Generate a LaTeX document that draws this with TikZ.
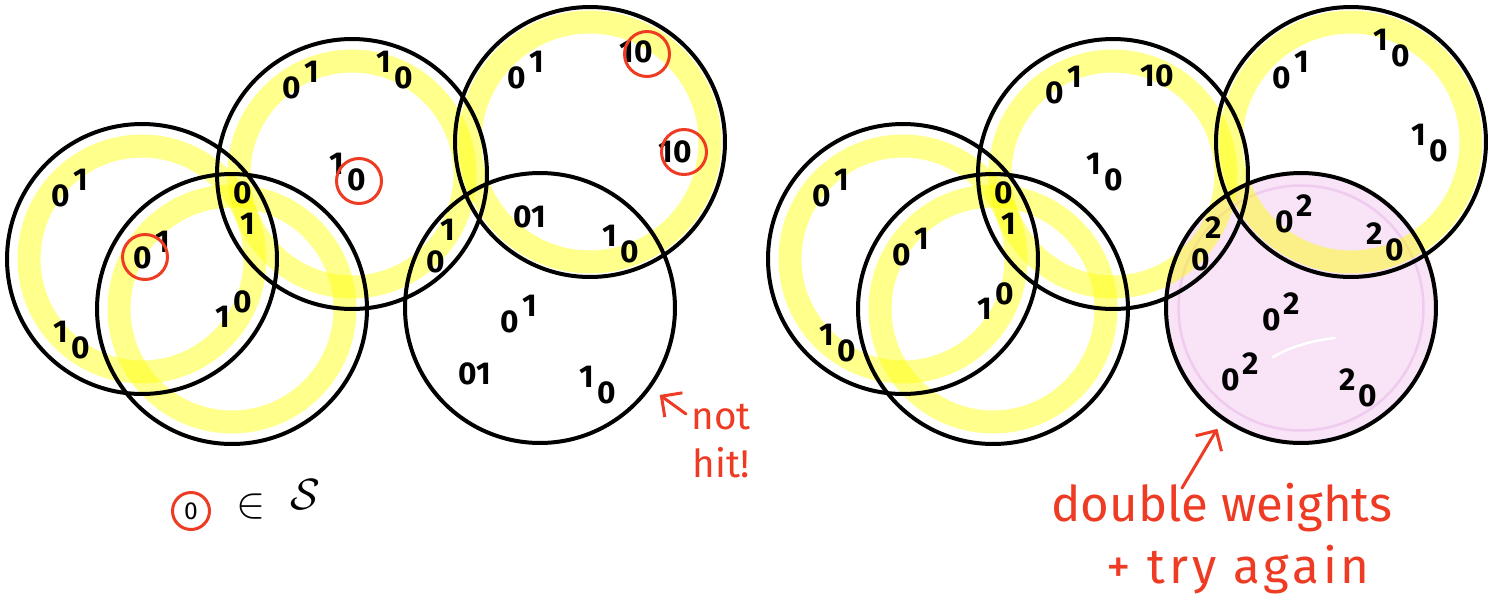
\documentclass[tikz,border=0pt]{standalone}
\usepackage{fontspec}
\setmainfont{Fira Sans}
\usepackage{tikz}
\usetikzlibrary{arrows.meta,positioning,backgrounds}
\definecolor{inkred}{HTML}{EE3B24}
\definecolor{hilite}{HTML}{FFFF00}
\definecolor{blush}{HTML}{F8E3F7}
\definecolor{blushrim}{HTML}{EFCBEE}
\newcommand{\up}[2]{#1\kern0.1em\raisebox{0.5em}{#2}}
\newcommand{\dn}[2]{\raisebox{0.5em}{#1}\kern0.1em#2}
\newcommand{\hi}[2]{#1\kern-0.15em\raisebox{1em}{#2}}
\tikzset{
  ring/.style={draw, circle, line width=0.08cm, minimum size=5.4cm, inner sep=0pt},
  band/.style={draw=hilite, draw opacity=0.45, line width=0.46cm},
  dig/.style={font=\fontsize{18}{16}\selectfont\bfseries, inner sep=0pt},
  hit/.style={draw=inkred, circle, line width=0.06cm, minimum size=0.9cm, inner sep=0pt},
  note/.style={text=inkred, font=\fontsize{28}{30}\selectfont, inner sep=0pt},
  redarr/.style={-{Straight Barb[length=3mm]}, draw=inkred, line width=0.06cm, line cap=round}
}

\begin{document}
\begin{tikzpicture}[x=0.02cm, y=-0.02cm]
\useasboundingbox (0,0) rectangle (1498,599);
% left: weights 1
\node[ring] (A) at (142,259) {};
\node[ring] (B) at (232,309) {};
\node[ring] (C) at (352,174) {};
\node[ring] (D) at (590,142) {};
\node[ring] (E) at (540,308) {};
% right: weights doubled on the missed set
\node[ring] (A2) at (903,259) {};
\node[ring] (B2) at (993,309) {};
\node[ring] (C2) at (1113,174) {};
\node[ring] (D2) at (1351,142) {};
\node[ring] (E2) at (1301,308) {};

\begin{pgfonlayer}{background}
\fill[blush] (E2.center) circle[radius=2.7cm];
\draw[blushrim, line width=0.05cm] (E2.center) circle[radius=2.45cm];
\draw[white, line width=0.05cm, line cap=round] (1273,357) .. controls (1292,346) and (1315,340) .. (1335,338);
\draw[band] (A.center) circle[radius=2.26cm];
\draw[band] (B.center) circle[radius=2.26cm];
\draw[band] (C.center) circle[radius=2.26cm];
\draw[band] (D.center) circle[radius=2.4cm];
\draw[band] (A2.center) circle[radius=2.26cm];
\draw[band] (B2.center) circle[radius=2.26cm];
\draw[band] (C2.center) circle[radius=2.26cm];
\draw[band] (D2.center) circle[radius=2.4cm];
\end{pgfonlayer}

% labels, left
\node[dig] (a1) at (70,188) {\up{0}{1}};
\node[dig] (a2) at (72,340) {\dn{1}{0}};
\node[dig] (a3) at (152,250) {\up{0}{1}};
\node[dig] (a4) at (234,309) {\up{1}{0}};
\node[dig, align=center] (ac) at (243,208) {0\\[2pt]\kern0.3em1};
\node[dig] (c1) at (301,80) {\up{0}{1}};
\node[dig] (c2) at (395,70) {\dn{1}{0}};
\node[dig] (c3) at (348,172) {\dn{1}{0}};
\node[dig] (ce) at (441,246) {\hi{0}{1}};
\node[dig] (d1) at (526,70) {\up{0}{1}};
\node[dig] (d2) at (636,52) {10};
\node[dig] (d3) at (675,152) {10};
\node[dig] (d4) at (530,217) {01};
\node[dig] (d5) at (621,244) {\dn{1}{0}};
\node[dig] (e1) at (519,314) {\up{0}{1}};
\node[dig] (e2) at (475,374) {01};
\node[dig] (e3) at (598,385) {\dn{1}{0}};
\node[hit] (h1) at (145,257) {};
\node[hit] (h2) at (359,181) {};
\node[hit] (h3) at (647,54) {};
\node[hit] (h4) at (684,152) {};

% labels, right
\node[dig] (a1r) at (831,188) {\up{0}{1}};
\node[dig] (a2r) at (838,343) {\dn{1}{0}};
\node[dig] (a3r) at (911,247) {\up{0}{1}};
\node[dig] (a4r) at (996,301) {\up{1}{0}};
\node[dig, align=center] (acr) at (1004,208) {0\\[2pt]\kern0.3em1};
\node[dig] (c1r) at (1064,85) {\up{0}{1}};
\node[dig] (c2r) at (1157,76) {10};
\node[dig] (c3r) at (1105,172) {\dn{1}{0}};
\node[dig] (cer) at (1207,244) {\hi{0}{2}};
\node[dig] (d1r) at (1291,70) {\up{0}{1}};
\node[dig] (d2r) at (1392,48) {\dn{1}{0}};
\node[dig] (d3r) at (1430,143) {\dn{1}{0}};
\node[dig] (d4r) at (1294,214) {\up{0}{2}};
\node[dig] (d5r) at (1385,242) {\dn{2}{0}};
\node[dig] (e1r) at (1281,312) {\up{0}{2}};
\node[dig] (e2r) at (1240,372) {\up{0}{2}};
\node[dig] (e3r) at (1358,388) {\dn{2}{0}};

% key
\node[hit, minimum size=0.74cm, font=\fontsize{14}{14}\selectfont] (key) at (191,511) {0};
\node[font=\fontsize{26}{26}\selectfont] (in) at (251,507) {$\in$};
\node[font=\fontsize{40}{40}\selectfont] (set) at (305,495) {$\mathcal{S}$};

% notes
\node[note, font=\fontsize{22}{27}\selectfont, align=center] (nothit) at (721,441) {not\\hit!};
\coordinate (ntail) at (686,414);
\draw[redarr, shorten >=0.22cm] (ntail) -- (E.-36);
\node[note] (dw) at (1222,508) {double weights};
\node[note] (ta) at (1238,570) {\addfontfeature{LetterSpace=8}+ try again};
\coordinate (dwtail) at (1182,488);
\draw[redarr, shorten >=0.2cm] (dwtail) -- (E2.-125);
\end{tikzpicture}
\end{document}
